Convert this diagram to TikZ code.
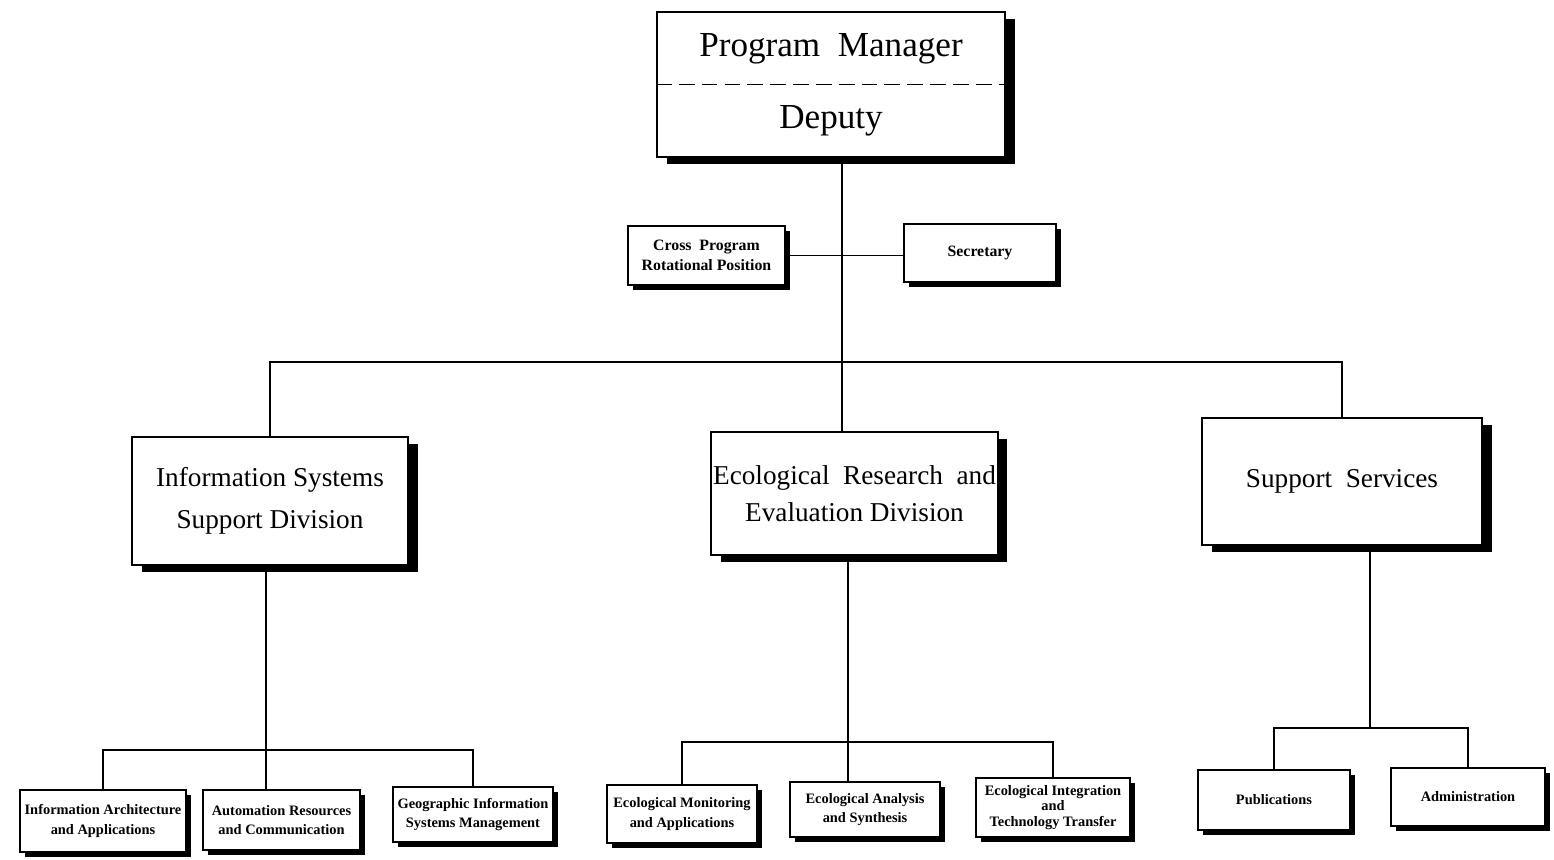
\documentclass[tikz,border=0pt]{standalone}
\usepackage{fontspec}
\setmainfont{Liberation Serif}
\usetikzlibrary{shadows}

\tikzset{
  unit/.style={draw, line width=1.2pt, fill=white, align=center, inner sep=1pt},
  bigbox/.style={unit,
    drop shadow={shadow xshift=5.5pt, shadow yshift=-4pt, opacity=1, fill=black}},
  smallbox/.style={unit, font=\bfseries\fontsize{8.2}{11}\selectfont,
    drop shadow={shadow xshift=3pt, shadow yshift=-3pt, opacity=1, fill=black}},
  link/.style={line width=1.1pt},
}

\begin{document}
\begin{tikzpicture}[x=0.02cm, y=-0.02cm]
  \fill[white] (0,0) rectangle (1554,859);

  % Top office
  \node[bigbox, minimum width=6.96cm, minimum height=2.9cm,
        font=\fontsize{20}{41}\selectfont] (pm) at (831,84.5)
        {Program\ \ Manager\\Deputy};
  \draw[line width=1.1pt, dashed, dash pattern=on 9pt off 4pt]
        (pm.west) -- (pm.east);

  % Staff
  \node[smallbox, minimum width=3.14cm, minimum height=1.18cm,
        font=\bfseries\fontsize{9}{11}\selectfont] (cross) at (706.5,255.5)
        {Cross\ \ Program\\Rotational\ Position};
  \node[smallbox, minimum width=3.04cm, minimum height=1.16cm,
        font=\bfseries\fontsize{9}{11}\selectfont] (secretary) at (980,253)
        {Secretary};

  % Divisions
  \node[bigbox, minimum width=5.52cm, minimum height=2.56cm,
        font=\fontsize{15.5}{24}\selectfont] (issd) at (270,501)
        {Information Systems\\Support Division};
  \node[bigbox, minimum width=5.7cm, minimum height=2.46cm,
        font=\fontsize{15.5}{21}\selectfont] (erede) at (854.5,493.5)
        {Ecological\ \ Research\ \ and\\Evaluation Division};
  \node[bigbox, minimum width=5.6cm, minimum height=2.54cm,
        font=\fontsize{15.5}{21}\selectfont] (ss) at (1342,481.5)
        {Support\ \ Services};

  % Branches
  \node[smallbox, minimum width=3.32cm, minimum height=1.24cm] (iaa) at (103,821)
        {Information Architecture\\and Applications};
  \node[smallbox, minimum width=3.14cm, minimum height=1.2cm] (arc) at (281.5,820)
        {Automation Resources\\and Communication};
  \node[smallbox, minimum width=3.2cm, minimum height=1.1cm] (gis) at (473,814.5)
        {Geographic Information\\Systems Management};

  \node[smallbox, minimum width=3.0cm, minimum height=1.16cm] (ema) at (682,814)
        {Ecological Monitoring\\and Applications};
  \node[smallbox, minimum width=3.0cm, minimum height=1.1cm] (eas) at (865,809.5)
        {Ecological Analysis\\and Synthesis};
  \node[smallbox, minimum width=3.08cm, minimum height=1.18cm,
        font=\bfseries\fontsize{8.2}{9}\selectfont] (eit) at (1053,807.5)
        {Ecological Integration\\and\\Technology Transfer};

  \node[smallbox, minimum width=3.04cm, minimum height=1.2cm] (pub) at (1274,800)
        {Publications};
  \node[smallbox, minimum width=3.08cm, minimum height=1.16cm] (adm) at (1468,797)
        {Administration};

  % Connectors
  \coordinate (trunk) at (842,362);
  \coordinate (isbus) at (266,750);
  \coordinate (erbus) at (848,742);
  \coordinate (ssbus) at (1370,728);

  \draw[link] (pm.south -| trunk) -- (erede.north -| trunk);
  \draw[link] (cross.east) -- (secretary.west |- cross.east);
  \draw[link] (issd.north) |- (trunk) -| (ss.north);

  \draw[link] (issd.south -| isbus) -- (arc.north -| isbus);
  \draw[link] (iaa.north) |- (isbus) -| (gis.north);

  \draw[link] (erede.south -| erbus) -- (eas.north -| erbus);
  \draw[link] (ema.north) |- (erbus) -| (eit.north);

  \draw[link] (ss.south -| ssbus) -- (ssbus);
  \draw[link] (pub.north) |- (ssbus) -| (adm.north);
\end{tikzpicture}
\end{document}
